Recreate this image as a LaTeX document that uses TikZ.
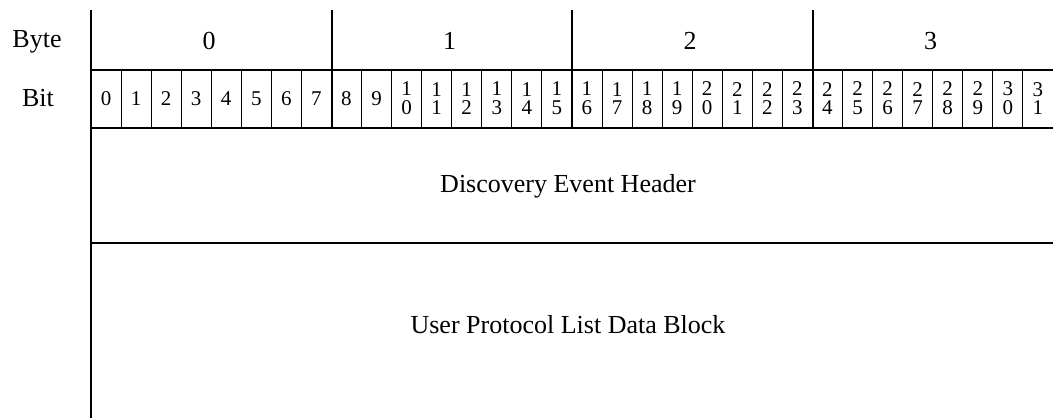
\documentclass[tikz,border=0pt]{standalone}
\usepackage{fontspec}
\setmainfont{Liberation Serif}
\begin{document}
\begin{tikzpicture}[x=0.5pt,y=-0.5pt,
  thickline/.style={line width=1pt},
  thinline/.style={line width=0.5pt},
  lbl/.style={font=\fontsize{13}{15}\selectfont,inner sep=0pt},
  bitlbl/.style={font=\fontsize{10.5}{9.4}\selectfont,align=center,inner sep=0pt}]
\useasboundingbox (0,0) rectangle (1053,418);

% frame lines
\draw[thickline] (91,10) -- (91,418);
\draw[thickline] (91,70) -- (1053,70);
\draw[thickline] (91,128) -- (1053,128);
\draw[thickline] (91,243) -- (1053,243);

% byte dividers
\foreach \b in {1,2,3}
  \draw[thickline] (91+240.5*\b,10) -- (91+240.5*\b,128);

% bit dividers
\foreach \i in {1,...,7,9,10,...,15,17,18,...,23,25,26,...,31}
  \draw[thinline] (91+30.06*\i,70) -- (91+30.06*\i,128);

% row titles
\node[lbl,anchor=base] (byte) at (37,47) {Byte};
\node[lbl,anchor=base] (bit) at (38,106) {Bit};

% byte numbers
\foreach \b in {0,...,3}
  \node[lbl,anchor=base] (byte\b) at (91+240.5*\b+118,49) {\b};

% bit numbers
\foreach \i in {0,...,31}{
  \pgfmathtruncatemacro\hi{int(\i/10)}
  \pgfmathtruncatemacro\lo{mod(\i,10)}
  \ifnum\i<10 \edef\bittext{\i}\else \edef\bittext{\hi\noexpand\\\lo}\fi
  \node[bitlbl] (bit\i) at (91+30.06*\i+15,98.5) {\bittext};
}

% fields
\node[lbl,anchor=base] (hdr) at (568,192) {Discovery Event Header};
\node[lbl,anchor=base] (upl) at (568,333) {User Protocol List Data Block};
\end{tikzpicture}
\end{document}
